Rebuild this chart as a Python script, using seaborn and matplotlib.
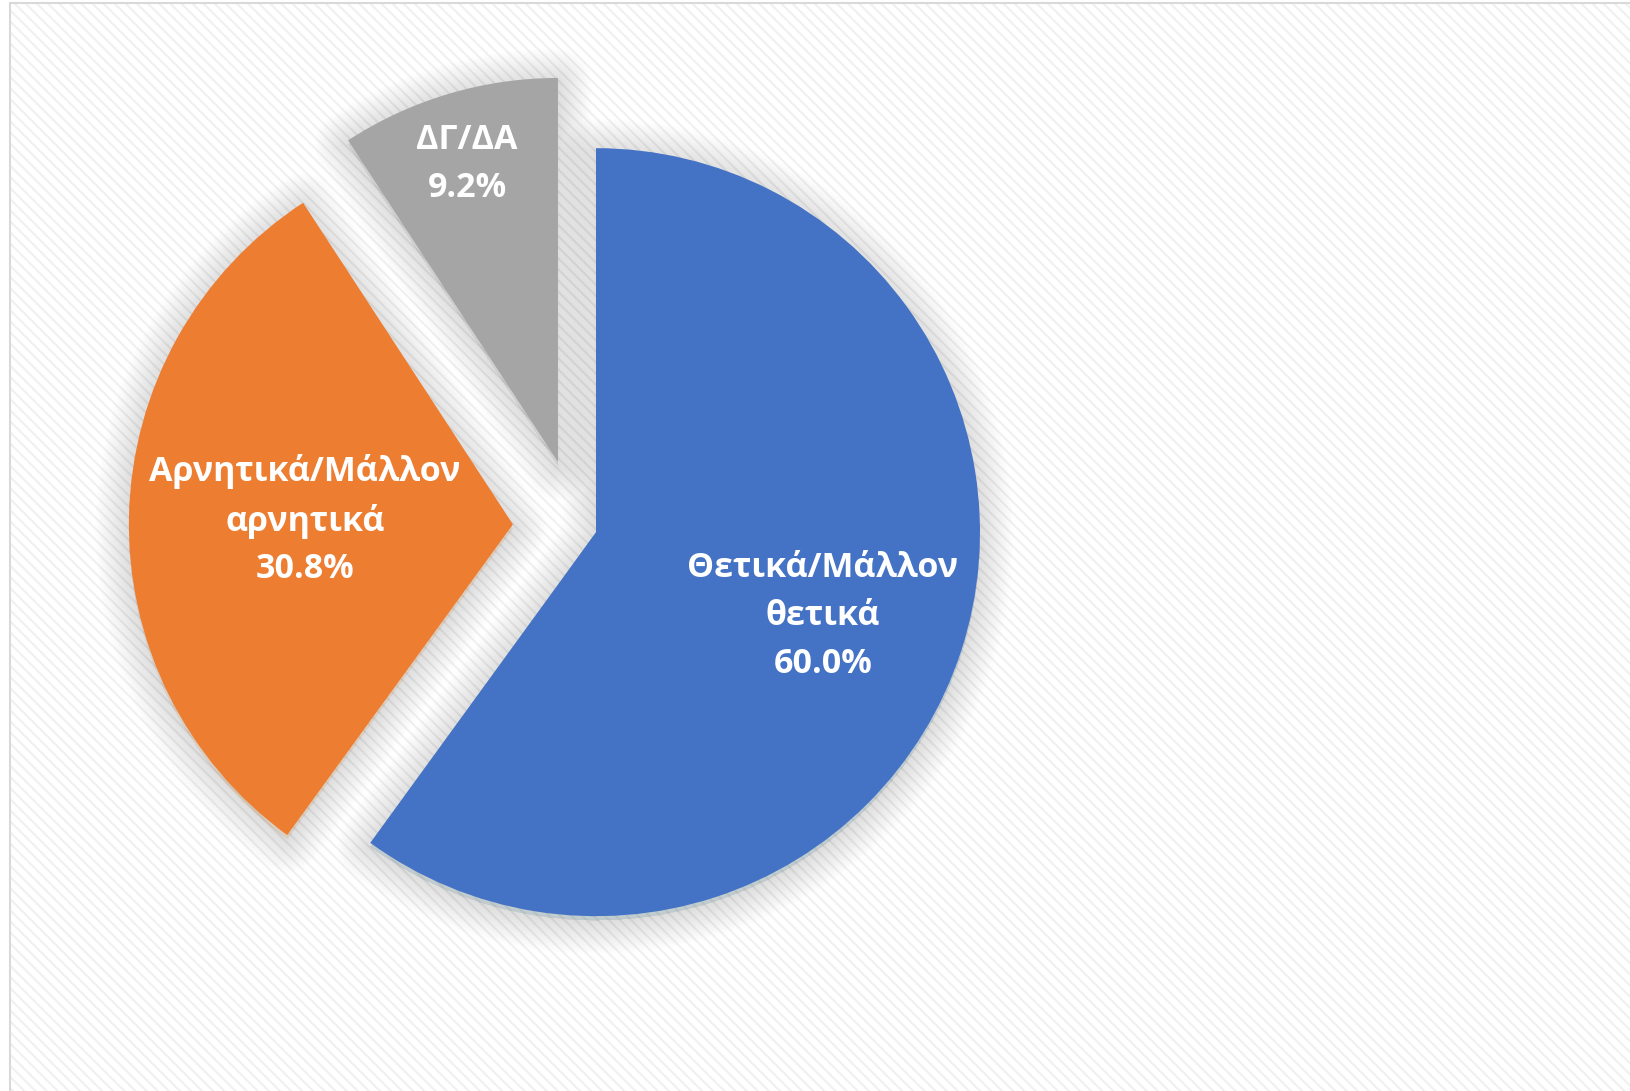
import numpy as np
import matplotlib
matplotlib.use("Agg")
import matplotlib.pyplot as plt
import seaborn as sns
from matplotlib import patheffects as pe
from matplotlib.patches import Rectangle

# ---- data ----
categories = ["Θετικά/Μάλλον\nθετικά", "Αρνητικά/Μάλλον\nαρνητικά", "ΔΓ/ΔΑ"]
values = [60.0, 30.8, 9.2]
colors = ["#4472C4", "#ED7D31", "#A5A5A5"]
explode_frac = [0.052, 0.167, 0.174]
# label offsets from each wedge's apex (pixels, layout only)
label_offsets = [(227, -84), (-208, 4), (-91, 298)]

sns.set_theme(style="white")
plt.rcParams["font.family"] = ["Open Sans", "DejaVu Sans"]
plt.rcParams["hatch.linewidth"] = 1.5

W, H = 1630, 1091
fig = plt.figure(figsize=(W / 100, H / 100), dpi=100)
ax = fig.add_axes([0, 0, 1, 1])
ax.set_xlim(0, W)
ax.set_ylim(0, H)
ax.axis("off")

# background with fine diagonal stripes + frame
ax.add_patch(Rectangle((10, -20), W + 40, H - 3 + 20, facecolor="white",
                       edgecolor="#f0f0f0", linewidth=0, hatch="\\\\\\", zorder=0))
ax.add_patch(Rectangle((10, -20), W + 40, H - 3 + 20, facecolor="none",
                       edgecolor="#d9d9d9", linewidth=1.5, zorder=0.5))

shadow = [pe.Stroke(linewidth=w, foreground="black", alpha=0.009,
                    offset=(0, -3), joinstyle="round")
          for w in range(48, 0, -3)] + [pe.Normal()]

cx, cy, R = 577, H - 526, 384
explode = [f * R for f in explode_frac]
wedges, _ = ax.pie(values, colors=colors, explode=explode, startangle=90,
                   counterclock=False, center=(cx, cy), radius=R,
                   wedgeprops=dict(linewidth=0, path_effects=shadow))
ax.set_xlim(0, W)
ax.set_ylim(0, H)
ax.set_aspect("equal")

for w, lab, val, (dx, dy) in zip(wedges, categories, values, label_offsets):
    wx, wy = w.center
    ax.text(wx + dx, wy + dy, f"{lab}\n{val:.1f}%", ha="center", va="center",
            color="white", fontsize=24.5, fontweight="bold", linespacing=1.53,
            zorder=5)

fig.savefig("out.png", dpi=100)
